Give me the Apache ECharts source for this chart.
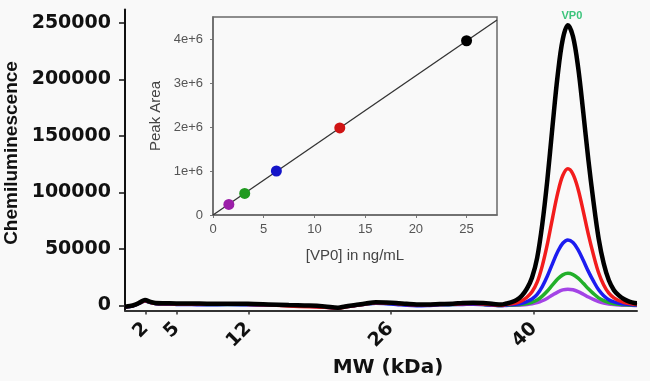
<!DOCTYPE html>
<html>
<head>
<meta charset="utf-8">
<script src="https://cdn.jsdelivr.net/npm/echarts@6/dist/echarts.min.js"></script>
<style>
html,body{margin:0;padding:0;background:#f9f9f9;}
#chart{width:650px;height:381px;}
</style>
</head>
<body>
<div id="chart"></div>
<script>
// ---- Main chromatogram data (x = elution position, arbitrary units 0-100; y in thousands) ----
var elutionX = [0,1,2,3,3.9,5,6,8,10,13,16,20,24,28,32,36,39,41.6,43,45,47,49,51,53,55,57,59,61.5,64,66,68,70,72,73.5,
  74.5,75.5,76.5,77.5,78.5,79.5,80.5,81.5,82.5,83.5,84.5,85.5,86.5,87.5,88.5,89.5,90.5,91.5,92.5,93.5,94.5,95.5,96.5,97.5,98.5,99.5,100];

var blackK = [-1.0,-0.5,0.8,3.0,4.8,3.2,2.2,2.0,1.8,1.8,1.6,1.6,1.5,1.0,0.4,0.0,-0.8,-2.0,-0.8,0.5,1.8,2.8,2.6,2.2,1.5,1.0,1.0,1.3,1.6,2.2,2.5,2.2,1.3,0.8,
  1.8,3.0,5.0,8.7,14.9,24.8,42.2,71.9,111.6,158.7,203.4,235.6,248,238,210.8,171.1,129,91.8,59.5,37.2,22.3,13.6,8.7,5.5,3.5,2.2,2.0];
var redK = [-1.2,-0.6,0.6,2.6,4.2,2.8,1.8,1.6,1.4,1.4,1.2,1.2,1.0,0.6,-0.4,-1.2,-1.6,-2.4,-1.4,0.0,1.4,2.4,2.2,1.8,1.0,0.6,0.6,1.0,1.2,1.6,1.8,1.4,0.6,0.2,
  1.0,1.5,2.4,4.2,7.3,12.1,20.6,35.1,54.5,77.4,99.2,115,121,116.2,102.9,83.5,62.9,44.8,29,18.2,10.9,6.7,4.2,2.7,1.7,1.1,0.9];
var blueK = [-1.4,-0.8,0.4,2.4,4.0,2.6,1.6,1.2,1.0,0.8,0.6,0.8,0.6,0.4,0.0,-0.6,-1.4,-2.2,-1.2,0.0,1.2,2.0,1.6,1.0,0.2,-0.2,0.0,0.6,0.8,1.0,1.2,0.8,0.2,0.0,
  0.5,0.7,1.2,2.0,3.5,5.8,9.9,16.8,26.1,37.1,47.6,55.1,58,55.7,49.3,40,30.2,21.5,13.9,8.7,5.2,3.2,2.0,1.3,0.8,0.5,0.4];
var greenK = [-1.3,-0.7,0.5,2.5,4.1,2.7,1.7,1.4,1.2,1.2,1.0,1.0,0.9,0.5,0.1,-0.4,-1.2,-2.1,-1.0,0.2,1.4,2.2,2.0,1.5,0.8,0.4,0.4,0.8,1.0,1.2,1.4,1.0,0.4,0.1,
  0.2,0.3,0.6,1.0,1.7,2.9,4.8,8.3,12.8,18.2,23.4,27.1,28.5,27.4,24.2,19.7,14.8,10.5,6.8,4.3,2.6,1.6,1.0,0.6,0.4,0.3,0.2];
var purpleK = [-1.2,-0.6,0.6,2.6,4.3,2.8,1.8,1.5,1.3,1.3,1.1,1.1,1.0,0.6,0.2,-0.3,-1.0,-2.0,-0.9,0.3,1.5,2.3,2.1,1.6,0.9,0.5,0.6,1.2,1.6,2.0,2.0,1.2,0.4,0.0,
  0.1,0.2,0.3,0.5,0.9,1.5,2.5,4.2,6.5,9.3,11.9,13.8,14.5,13.9,12.3,10,7.5,5.4,3.5,2.2,1.3,0.8,0.5,0.3,0.2,0.1,0.1];

// MW marker tick positions (in elution units) and their labels
var mwTickPos = [4.04, 10.1, 24.1, 51.9, 79.9];
var mwTickLabels = ['2', '5', '12', '26', '40'];
var yTickValues = [0, 50000, 100000, 150000, 200000, 250000];

// ---- Inset calibration data ----
var vp0Conc = [1.5625, 3.125, 6.25, 12.5, 25];
var peakArea = [240000, 490000, 1000000, 1980000, 3960000];
var pointColors = ['#9b1fa8', '#1f9a1f', '#1414c8', '#d01414', '#000000'];
var fitX = [0, 28];
var fitY = [0, 4430000];
var insetXTicks = [0, 5, 10, 15, 20, 25];
var insetYTicks = [0, 1000000, 2000000, 3000000, 4000000];
var insetYLabels = ['0', '1e+6', '2e+6', '3e+6', '4e+6'];

function pairs(xs, ks) {
  return xs.map(function (x, i) { return [x, ks[i] * 1000]; });
}

var traceDefs = [
  { name: 'purple', data: purpleK, color: '#a444e6', width: 3.5 },
  { name: 'green', data: greenK, color: '#22b02a', width: 3.5 },
  { name: 'blue', data: blueK, color: '#1c1cf0', width: 3.5 },
  { name: 'red', data: redK, color: '#f21c1c', width: 3.5 },
  { name: 'black', data: blackK, color: '#000000', width: 4.5 }
];

var series = traceDefs.map(function (t) {
  var s = {
    type: 'line', name: t.name, xAxisIndex: 0, yAxisIndex: 0,
    data: pairs(elutionX, t.data), showSymbol: false, smooth: 0.35,
    lineStyle: { color: t.color, width: t.width }, z: 2
  };
  if (t.name === 'black') {
    s.markPoint = {
      symbol: 'circle', symbolSize: 0,
      data: [{ type: 'max' }],
      label: { show: true, formatter: 'VP0', position: 'top', distance: 4, offset: [4, 0],
        color: '#3cc47c', fontWeight: 'bold', fontSize: 11, fontFamily: 'Liberation Sans' }
    };
  }
  return s;
});

series.push({
  type: 'line', xAxisIndex: 1, yAxisIndex: 1,
  data: fitX.map(function (x, i) { return [x, fitY[i]]; }),
  showSymbol: false, lineStyle: { color: '#333', width: 1.3 }, z: 5
});
series.push({
  type: 'scatter', xAxisIndex: 1, yAxisIndex: 1, symbolSize: 11,
  data: vp0Conc.map(function (x, i) { return { value: [x, peakArea[i]], itemStyle: { color: pointColors[i], opacity: 1 } }; }),
  z: 6
});

var chart = echarts.init(document.getElementById('chart'));
chart.setOption({
  animation: false,
  backgroundColor: '#f9f9f9',
  grid: [
    { left: 125, right: 13, top: 9.4, bottom: 70.4, outerBoundsMode: 'none', containLabel: false },
    { left: 213, top: 17, width: 284, height: 198, outerBoundsMode: 'none', containLabel: false,
      show: true, borderColor: '#6a6a6a', borderWidth: 1.5, backgroundColor: 'transparent', z: 4 }
  ],
  xAxis: [
    {
      type: 'value', gridIndex: 0, min: 0, max: 100,
      name: 'MW (kDa)', nameLocation: 'middle', nameGap: 46,
      nameTextStyle: { fontFamily: 'DejaVu Sans', fontWeight: 'bold', fontSize: 20, color: '#111', padding: [0, 0, 0, 14] },
      axisLine: { show: true, onZero: false, lineStyle: { color: '#333', width: 2 } },
      axisTick: { show: true, customValues: mwTickPos, length: 4, lineStyle: { color: '#333', width: 1.5 } },
      axisLabel: {
        customValues: mwTickPos, rotate: 45, margin: 15,
        fontFamily: 'DejaVu Sans', fontWeight: 'bold', fontSize: 19, color: '#111',
        formatter: function (v) { var i = mwTickPos.indexOf(v); return i >= 0 ? mwTickLabels[i] : ''; }
      },
      splitLine: { show: false }
    },
    {
      type: 'value', gridIndex: 1, min: 0, max: 28,
      name: '[VP0] in ng/mL', nameLocation: 'middle', nameGap: 33,
      nameTextStyle: { fontFamily: 'Liberation Sans', fontSize: 15, color: '#444' },
      axisLine: { show: true, lineStyle: { color: '#6a6a6a', width: 1.5 } },
      axisTick: { show: true, customValues: insetXTicks, length: 3, lineStyle: { color: '#777' } },
      axisLabel: { customValues: insetXTicks, margin: 8, fontFamily: 'Liberation Sans', fontSize: 13, color: '#555' },
      splitLine: { show: false }
    }
  ],
  yAxis: [
    {
      type: 'value', gridIndex: 0, min: -4500, max: 262000,
      name: 'Chemiluminescence', nameLocation: 'middle', nameGap: 95,
      nameTextStyle: { fontFamily: 'Liberation Sans', fontWeight: 'bold', fontSize: 19, color: '#111', padding: [0, 0, 0, 14] },
      axisLine: { show: true, onZero: false, lineStyle: { color: '#111', width: 2 } },
      axisTick: { show: true, customValues: yTickValues, length: 6, lineStyle: { color: '#111', width: 1.5 } },
      axisLabel: {
        customValues: yTickValues, margin: 14, fontFamily: 'DejaVu Sans', fontWeight: 'bold', fontSize: 19, color: '#111',
        formatter: function (v) { return String(v); }
      },
      splitLine: { show: false }
    },
    {
      type: 'value', gridIndex: 1, min: 0, max: 4500000,
      name: 'Peak Area', nameLocation: 'middle', nameGap: 50,
      nameTextStyle: { fontFamily: 'Liberation Sans', fontSize: 15, color: '#444' },
      axisLine: { show: true, lineStyle: { color: '#6a6a6a', width: 1.5 } },
      axisTick: { show: true, customValues: insetYTicks, length: 3, lineStyle: { color: '#777' } },
      axisLabel: {
        customValues: insetYTicks, margin: 10, fontFamily: 'Liberation Sans', fontSize: 13, color: '#555',
        formatter: function (v) { var i = insetYTicks.indexOf(v); return i >= 0 ? insetYLabels[i] : ''; }
      },
      splitLine: { show: false }
    }
  ],
  series: series
});
</script>
</body>
</html>
